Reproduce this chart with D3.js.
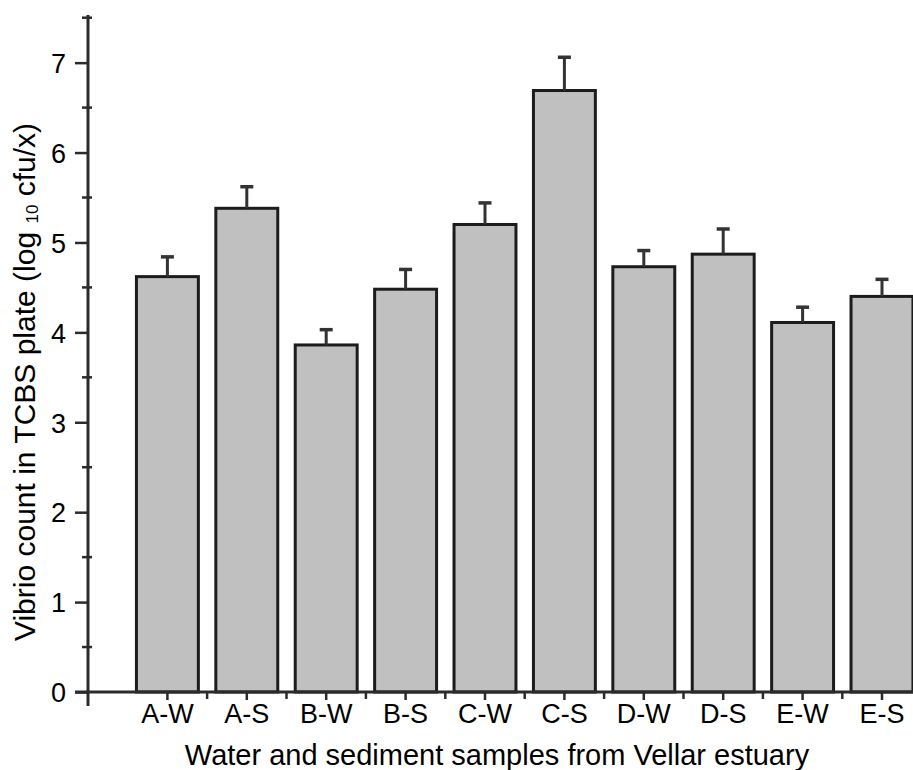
<!DOCTYPE html>
<html>
<head>
<meta charset="utf-8">
<script src="https://cdn.jsdelivr.net/npm/d3@7"></script>
<style>
  body { margin: 0; background: #fff; }
  text { font-family: "Liberation Sans", Arial, sans-serif; fill: #000; }
</style>
</head>
<body>
<script>
  // samples and values
  let samples = ["A-W", "A-S", "B-W", "B-S", "C-W", "C-S", "D-W", "D-S", "E-W", "E-S"];
  let counts = [4.62, 5.38, 3.86, 4.48, 5.20, 6.69, 4.73, 4.87, 4.11, 4.40];
  let errors = [0.22, 0.24, 0.17, 0.22, 0.24, 0.37, 0.18, 0.28, 0.17, 0.19];
  let yTicks = [0, 1, 2, 3, 4, 5, 6, 7];
  let yMinor = [0.5, 1.5, 2.5, 3.5, 4.5, 5.5, 6.5, 7.5];

  let data = samples.map((s, i) => ({ name: s, value: counts[i], err: errors[i] }));

  let svg = d3.select("body")
    .append("svg")
      .attr("width", 913)
      .attr("height", 770);

  let axisColor = "#2b2b2b";

  // y scale: 0 sits on the x axis, axis line runs to ~7.53
  let y = d3.scaleLinear()
    .domain([0, 7.53])
    .range([692, 15]);

  // slot positions along x, one slot per bar plus the gap at the left
  let slot = d3.scaleLinear()
    .domain([0, 11])
    .range([88, 961.4]);

  let x = d3.scaleBand()
    .domain(samples)
    .range([slot(0.5), slot(10.5)])
    .paddingInner(0.22)
    .paddingOuter(0.11);

  // bars
  svg.selectAll(".bar")
    .data(data)
    .enter()
    .append("rect")
      .attr("class", "bar")
      .attr("x", (d) => x(d.name))
      .attr("y", (d) => y(d.value))
      .attr("width", x.bandwidth())
      .attr("height", (d) => y(0) - y(d.value))
      .attr("fill", "#c0c0c0")
      .attr("stroke", "#1c1c1c")
      .attr("stroke-width", 3);

  // error bars (upper only)
  let cx = (d) => x(d.name) + x.bandwidth() / 2;
  svg.selectAll(".stem")
    .data(data)
    .enter()
    .append("line")
      .attr("x1", cx).attr("x2", cx)
      .attr("y1", (d) => y(d.value))
      .attr("y2", (d) => y(d.value + d.err))
      .attr("stroke", "#333")
      .attr("stroke-width", 3);
  svg.selectAll(".cap")
    .data(data)
    .enter()
    .append("line")
      .attr("x1", (d) => cx(d) - 6.5).attr("x2", (d) => cx(d) + 6.5)
      .attr("y1", (d) => y(d.value + d.err))
      .attr("y2", (d) => y(d.value + d.err))
      .attr("stroke", "#333")
      .attr("stroke-width", 3.5);

  // y axis
  let yAxis = svg.append("g")
    .attr("transform", "translate(88, 0)")
    .call(d3.axisLeft(y).tickValues(yTicks).tickSize(13).tickPadding(9).tickSizeOuter(0));
  yAxis.select(".domain").remove();
  yAxis.selectAll("line").attr("stroke", axisColor).attr("stroke-width", 2.5);
  yAxis.selectAll("text").style("font-size", "27px").attr("dy", "0.36em");

  svg.selectAll(".yminor")
    .data(yMinor)
    .enter()
    .append("line")
      .attr("x1", 82).attr("x2", 92)
      .attr("y1", (d) => y(d)).attr("y2", (d) => y(d))
      .attr("stroke", axisColor)
      .attr("stroke-width", 2.5);

  svg.append("line")
    .attr("x1", 88).attr("x2", 88)
    .attr("y1", y.range()[1]).attr("y2", y(0) + 14)
    .attr("stroke", axisColor)
    .attr("stroke-width", 3);

  // x axis
  let xAxis = svg.append("g")
    .attr("transform", "translate(0, 692)")
    .call(d3.axisBottom(x).tickSize(8).tickPadding(4).tickSizeOuter(0));
  xAxis.select(".domain").remove();
  xAxis.selectAll("line").attr("stroke", axisColor).attr("stroke-width", 2.5);
  xAxis.selectAll("text").style("font-size", "27px");

  // minor ticks between bars
  let gaps = d3.range(1, 11).map((i) => i + 0.5);
  svg.selectAll(".xminor")
    .data(gaps)
    .enter()
    .append("line")
      .attr("x1", (d) => slot(d)).attr("x2", (d) => slot(d))
      .attr("y1", 692).attr("y2", 699)
      .attr("stroke", axisColor)
      .attr("stroke-width", 2.5);

  svg.append("line")
    .attr("x1", 75).attr("x2", 913)
    .attr("y1", 692).attr("y2", 692)
    .attr("stroke", axisColor)
    .attr("stroke-width", 3);

  // axis titles
  svg.append("text")
    .attr("x", 497)
    .attr("y", 765)
    .attr("text-anchor", "middle")
    .style("font-size", "29px")
    .text("Water and sediment samples from Vellar estuary");

  let yTitle = svg.append("text")
    .attr("transform", "translate(35, 382) rotate(-90)")
    .attr("text-anchor", "middle")
    .style("font-size", "30px");
  yTitle.append("tspan").text("Vibrio count in TCBS plate (log ");
  yTitle.append("tspan").attr("dy", 3).style("font-size", "17px").text("10");
  yTitle.append("tspan").attr("dy", -3).text(" cfu/x)");
</script>
</body>
</html>
